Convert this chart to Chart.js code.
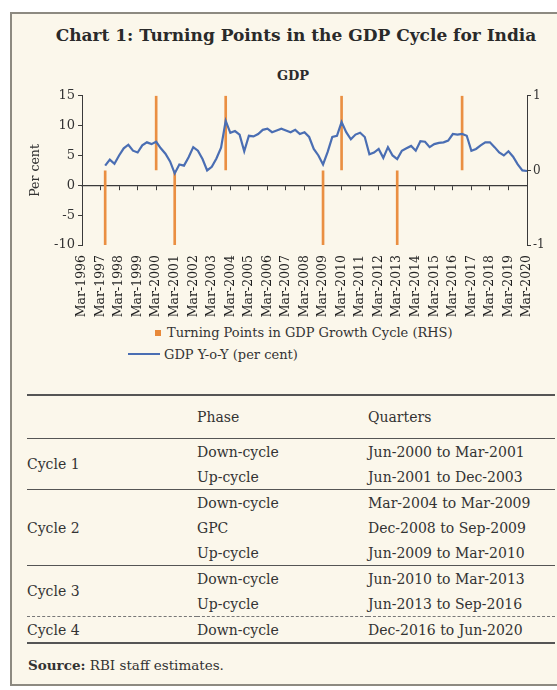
<!DOCTYPE html>
<html>
<head>
<meta charset="utf-8">
<script src="https://cdn.jsdelivr.net/npm/chart.js@4.4.1/dist/chart.umd.min.js"></script>
<style>
  body { margin: 0; background: #fff; font-family: 'DejaVu Serif', serif; color: #2b2b2b; }
  #card { position: absolute; left: 10px; top: 12px; width: 560px; height: 670px; background: #fbf7eb;
          border-left: 2px solid #8d8a81; border-top: 2px solid #8d8a81; border-bottom: 2px solid #8d8a81; }
  .abs { position: absolute; }
  #title { left: 0; width: 592px; top: 25px; text-align: center; font-weight: bold; font-size: 17px; color: #2a2a2a; }
  #sub { left: 0; width: 586px; top: 68px; text-align: center; font-weight: bold; font-size: 13px; }
  #wrap { left: 0; top: 85px; width: 557px; height: 240px; }
  .leg { font-size: 13px; color: #333; white-space: nowrap; }
  table { position: absolute; left: 27px; top: 394px; width: 528px; border-collapse: collapse; font-size: 14px; color: #333; }
  td { padding: 0; height: 25px; vertical-align: middle; }
  tr.head td { height: 42px; border-top: 2px solid #555; border-bottom: 1px solid #555; }
  tr.sep td { border-top: 1.5px solid #555; }
  tr.dash td { border-top: 1px dashed #777; }
  tr.last td { border-bottom: 2px solid #555; }
  #source { left: 28px; top: 657px; font-size: 13.5px; color: #333; }
</style>
</head>
<body>
<div id="card"></div>
<div id="title" class="abs">Chart 1: Turning Points in the GDP Cycle for India</div>
<div id="sub" class="abs">GDP</div>
<div id="wrap" class="abs"><canvas id="gdpChart" width="557" height="240"></canvas></div>
<div class="abs leg" style="left:155px; top:325px;"><span style="display:inline-block;width:6px;height:6px;background:#e8893a;margin-right:6px;vertical-align:1px;"></span>Turning Points in GDP Growth Cycle (RHS)</div>
<div class="abs leg" style="left:128px; top:347px;"><span style="display:inline-block;width:32px;height:2px;background:#4a6eb3;margin-right:4px;vertical-align:4px;"></span>GDP Y-o-Y (per cent)</div>

<table>
  <tr class="head"><td style="width:170px"></td><td style="width:171px">Phase</td><td>Quarters</td></tr>
  <tr><td rowspan="2">Cycle 1</td><td>Down-cycle</td><td>Jun-2000 to Mar-2001</td></tr>
  <tr><td>Up-cycle</td><td>Jun-2001 to Dec-2003</td></tr>
  <tr class="sep"><td rowspan="3">Cycle 2</td><td>Down-cycle</td><td>Mar-2004 to Mar-2009</td></tr>
  <tr><td>GPC</td><td>Dec-2008 to Sep-2009</td></tr>
  <tr><td>Up-cycle</td><td>Jun-2009 to Mar-2010</td></tr>
  <tr class="sep"><td rowspan="2">Cycle 3</td><td>Down-cycle</td><td>Jun-2010 to Mar-2013</td></tr>
  <tr><td>Up-cycle</td><td>Jun-2013 to Sep-2016</td></tr>
  <tr class="dash last"><td>Cycle 4</td><td>Down-cycle</td><td>Dec-2016 to Jun-2020</td></tr>
</table>
<div id="source" class="abs"><b>Source:</b> RBI staff estimates.</div>

<script>
// quarters Mar-1996 .. Mar-2020
const quarterMonths = ['Mar', 'Jun', 'Sep', 'Dec'];
const years = [1996, 1997, 1998, 1999, 2000, 2001, 2002, 2003, 2004, 2005, 2006, 2007, 2008,
  2009, 2010, 2011, 2012, 2013, 2014, 2015, 2016, 2017, 2018, 2019, 2020];

const quarters = [];
years.forEach(function (y) {
  quarterMonths.forEach(function (m) {
    if (y < 2020 || m === 'Mar') quarters.push(m + '-' + y);
  });
});

// GDP y-o-y growth, per cent
const gdpYoY = [
  null, null, null, null, null,   // Mar-1996 .. Mar-1997
  3.3, 4.3, 3.6,                  // 1997
  5.0, 6.2, 6.8, 5.8,             // 1998
  5.5, 6.7, 7.2, 6.9,             // 1999
  7.3, 6.2, 5.3, 4.0,             // 2000
  2.0, 3.5, 3.3, 4.7,             // 2001
  6.4, 5.8, 4.4, 2.5,             // 2002
  3.1, 4.5, 6.3, 10.8,            // 2003
  8.8, 9.1, 8.5, 5.7,             // 2004
  8.3, 8.2, 8.6, 9.3,             // 2005
  9.5, 8.9, 9.2, 9.5,             // 2006
  9.2, 8.9, 9.3, 8.6,             // 2007
  8.9, 8.1, 6.1, 5.0,             // 2008
  3.5, 5.6, 8.1, 8.3,             // 2009
  10.6, 8.9, 7.7, 8.5,            // 2010
  8.8, 8.1, 5.2, 5.5,             // 2011
  6.1, 4.6, 6.4, 5.0,             // 2012
  4.4, 5.8, 6.2, 6.6,             // 2013
  5.8, 7.4, 7.3, 6.4,             // 2014
  6.9, 7.1, 7.2, 7.5,             // 2015
  8.6, 8.5, 8.6, 8.3,             // 2016
  5.8, 6.1, 6.7, 7.2,             // 2017
  7.2, 6.4, 5.5, 5.0,             // 2018
  5.7, 4.8, 3.5, 2.5,             // 2019
  2.4                             // Mar-2020
];

// turning points (RHS): peaks = +1, troughs = -1
const peaks = ['Mar-2000', 'Dec-2003', 'Mar-2010', 'Sep-2016'];
const troughs = ['Jun-1997', 'Mar-2001', 'Mar-2009', 'Mar-2013'];

const yTicks = [-10, -5, 0, 5, 10, 15];
const y2Ticks = [-1, 0, 1];

const turning = quarters.map(function (q) {
  if (peaks.includes(q)) return 1;
  if (troughs.includes(q)) return -1;
  return null;
});

const serif = 'DejaVu Serif';
const axisColor = '#3a3a3a';

new Chart(document.getElementById('gdpChart'), {
  data: {
    labels: quarters,
    datasets: [
      {
        type: 'line',
        label: 'GDP Y-o-Y (per cent)',
        data: gdpYoY,
        yAxisID: 'y',
        borderColor: '#4a6eb3',
        borderWidth: 2.2,
        pointRadius: 0,
        tension: 0,
        order: 0
      },
      {
        type: 'bar',
        label: 'Turning Points in GDP Growth Cycle (RHS)',
        data: turning,
        yAxisID: 'y2',
        backgroundColor: '#ea8f42',
        barThickness: 2,
        order: 1
      }
    ]
  },
  options: {
    responsive: false,
    animation: false,
    devicePixelRatio: 1,
    layout: { padding: { top: 10, left: 28, right: 0, bottom: 0 } },
    plugins: { legend: { display: false }, tooltip: { enabled: false } },
    scales: {
      x: {
        type: 'category',
        position: 'bottom',
        offset: false,
        grid: { display: false },
        border: { display: false },
        ticks: {
          autoSkip: false, minRotation: 90, maxRotation: 90, padding: 2,
          color: '#222', font: { family: serif, size: 12.5 },
          callback: function (v, i) { return i % 4 === 0 ? quarters[i] : ''; }
        },
        afterFit: function (s) { s.height = 80; }
      },
      x2: {
        type: 'category',
        position: { y: 0 },
        offset: false,
        ticks: { display: false },
        grid: {
          drawOnChartArea: false, drawTicks: true, tickLength: 4, lineWidth: 1,
          color: function (ctx) { return ctx.index % 4 === 0 ? axisColor : 'rgba(0,0,0,0)'; }
        },
        border: { display: true, color: axisColor, width: 1.2 }
      },
      y: {
        position: 'left',
        min: -10, max: 15,
        afterBuildTicks: function (s) { s.ticks = yTicks.map(function (v) { return { value: v }; }); },
        grid: { drawOnChartArea: false, drawTicks: true, tickLength: 4, color: axisColor },
        border: { display: true, color: axisColor, width: 1 },
        ticks: { color: '#333', padding: 3, font: { family: serif, size: 13 } },
        title: { display: true, text: 'Per cent', color: '#333', padding: 0, font: { family: serif, size: 12.5 } },
        afterFit: function (s) { s.width = 54; }
      },
      y2: {
        position: 'right',
        min: -1, max: 1,
        afterBuildTicks: function (s) { s.ticks = y2Ticks.map(function (v) { return { value: v }; }); },
        grid: { drawOnChartArea: false, drawTicks: true, tickLength: 4, color: axisColor },
        border: { display: true, color: axisColor, width: 1 },
        ticks: { color: '#333', padding: 2, font: { family: serif, size: 12 } },
        afterFit: function (s) { s.width = 30; }
      }
    }
  }
});
</script>
</body>
</html>
